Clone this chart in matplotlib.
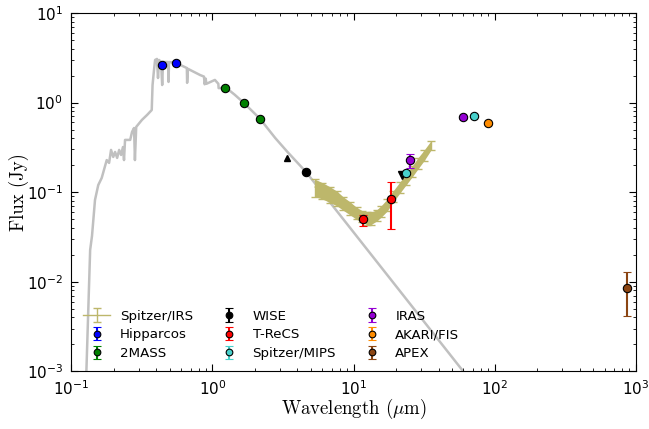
import numpy as np
import matplotlib.pyplot as plt

plt.rcParams['axes.unicode_minus'] = False

# photosphere model
model_wave = [0.126, 0.1324, 0.1358, 0.140, 0.147, 0.155, 0.164, 0.178, 0.185, 0.191,
              0.198, 0.204, 0.211, 0.218, 0.225, 0.232, 0.236, 0.240, 0.261, 0.269,
              0.278, 0.282, 0.288, 0.316, 0.344, 0.371, 0.376, 0.385, 0.392, 0.404,
              0.411, 0.418, 0.432, 0.440, 0.446, 0.484, 0.488, 0.492, 0.552, 0.658,
              0.661, 0.670, 0.817, 0.870, 0.880, 0.895, 0.905, 1.04, 1.10, 1.105,
              1.25, 1.44, 1.67, 2.17, 2.78, 3.4, 4.6, 59.8, 75.0]
model_flux = [0.0005, 0.00626, 0.0226, 0.0325, 0.0818, 0.12, 0.144, 0.228, 0.212, 0.296,
              0.247, 0.281, 0.241, 0.296, 0.26, 0.319, 0.228, 0.383, 0.383, 0.47,
              0.52, 0.228, 0.535, 0.64, 0.728, 0.826, 1.57, 2.31, 2.99, 3.07,
              1.88, 2.99, 2.84, 1.57, 2.84, 2.84, 1.7, 2.84, 2.77, 2.43,
              1.66, 2.38, 2.03, 1.95, 1.60, 1.85, 1.62, 1.79, 1.62, 1.45,
              1.46, 1.22, 0.99, 0.66, 0.403, 0.281, 0.168, 0.001, 0.00064]

irs_wave = [5.34, 5.98, 6.82, 7.64, 8.43, 9.45, 10.5, 11.5, 12.4, 13.3, 14.6, 15.7,
            17.2, 19.1, 21.3, 23.5, 26.0, 28.6, 31.6, 35.4]
irs_flux = [0.114, 0.106, 0.0955, 0.0861, 0.0757, 0.0667, 0.0586, 0.0542, 0.0515, 0.0515,
            0.0557, 0.0617, 0.0719, 0.0908, 0.114, 0.140, 0.172, 0.212, 0.260, 0.336]
irs_err = [0.025, 0.022, 0.019, 0.016, 0.013, 0.011, 0.009, 0.008, 0.008, 0.008,
           0.008, 0.009, 0.011, 0.013, 0.016, 0.02, 0.024, 0.03, 0.035, 0.04]

hip_wave = [0.44, 0.55]
hip_flux = [2.63, 2.77]
hip_err = [0.05, 0.05]

tmass_wave = [1.235, 1.662, 2.159]
tmass_flux = [1.46, 0.99, 0.66]
tmass_err = [0.03, 0.02, 0.015]

wise_wave = [4.6]
wise_flux = [0.168]
wise_err = [0.004]
wise_up_wave = [3.4]
wise_up_flux = [0.24]
wise_dn_wave = [22.1]
wise_dn_flux = [0.157]

trecs_wave = [11.7, 18.3]
trecs_flux = [0.050, 0.084]
trecs_err = [[0.0077, 0.045], [0.0057, 0.046]]

mips_wave = [23.7, 71.4]
mips_flux = [0.163, 0.715]
mips_err = [0.006, 0.03]

iras_wave = [25.0, 60.0]
iras_flux = [0.227, 0.685]
iras_err = [0.04, 0.03]

akari_wave = [90.0]
akari_flux = [0.587]
akari_err = [0.02]

apex_wave = [870.0]
apex_flux = [0.0085]
apex_err = [[0.0044], [0.0043]]

fig = plt.figure(figsize=(6.49, 4.29), dpi=100)
ax = fig.add_axes([0.110, 0.1345, 0.8697, 0.8352])

ax.plot(model_wave, model_flux, color='#c0c0c0', lw=1.8, zorder=1)

lo = np.array(irs_flux) - np.array(irs_err)
hi = np.array(irs_flux) + np.array(irs_err)
ax.fill_between(irs_wave, lo, hi, color='darkkhaki', lw=0, zorder=2)
ax.errorbar(irs_wave, irs_flux, yerr=irs_err, color='darkkhaki', lw=1, capsize=3,
            label='Spitzer/IRS', zorder=1.5)

mk = dict(fmt='o', ms=6, mec='k', mew=0.8, capsize=3, zorder=4)
ax.errorbar(hip_wave, hip_flux, yerr=hip_err, color='blue', mfc='blue', label='Hipparcos', **mk)
ax.errorbar(tmass_wave, tmass_flux, yerr=tmass_err, color='green', mfc='green', label='2MASS', **mk)
ax.errorbar(wise_wave, wise_flux, yerr=wise_err, color='k', mfc='k', label='WISE', **mk)
ax.plot(wise_up_wave, wise_up_flux, '^', color='k', ms=5, zorder=4)
ax.plot(wise_dn_wave, wise_dn_flux, 'v', color='k', ms=6, zorder=4)
ax.errorbar(trecs_wave, trecs_flux, yerr=trecs_err, color='red', mfc='red', label='T-ReCS', **mk)
ax.errorbar(mips_wave, mips_flux, yerr=mips_err, color='mediumturquoise', mfc='mediumturquoise',
            label='Spitzer/MIPS', **mk)
ax.errorbar(iras_wave, iras_flux, yerr=iras_err, color='darkviolet', mfc='darkviolet', label='IRAS', **mk)
ax.errorbar(akari_wave, akari_flux, yerr=akari_err, color='darkorange', mfc='darkorange',
            label='AKARI/FIS', **mk)
ax.errorbar(apex_wave, apex_flux, yerr=apex_err, color='saddlebrown', mfc='saddlebrown', label='APEX', **mk)

ax.set_xscale('log')
ax.set_yscale('log')
ax.set_xlim(0.1, 1000)
ax.set_ylim(0.001, 10)

ax.tick_params(which='both', direction='in', top=True, right=True, labelsize=11)
ax.tick_params(which='major', length=5, pad=6)
ax.tick_params(which='minor', length=2.5)

ax.set_xlabel(r'Wavelength ($\mu$m)', family='cmr10', math_fontfamily='cm', fontsize=13.5,
              labelpad=-1)
ax.set_ylabel('Flux (Jy)', family='cmr10', fontsize=13.5, labelpad=-2)

ax.legend(loc='lower left', ncol=3, frameon=False, numpoints=1, fontsize=9.6,
          markerscale=0.8, handlelength=2.0, handletextpad=0.75, columnspacing=1.7,
          labelspacing=0.42, bbox_to_anchor=(0.0, -0.002))

fig.savefig('out.png', dpi=100)
